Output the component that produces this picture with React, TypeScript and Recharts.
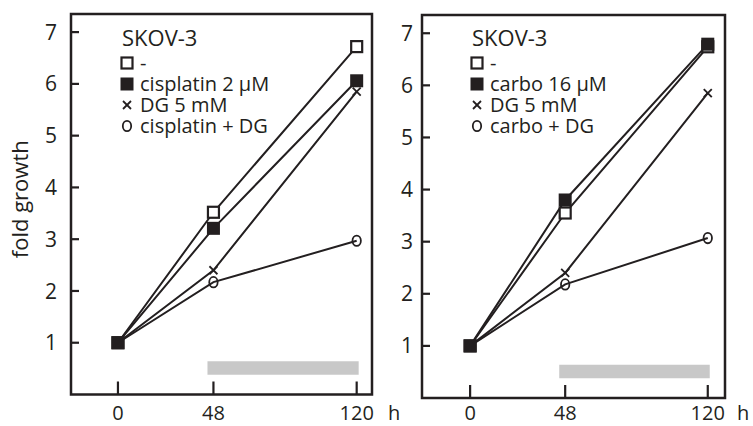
import React from 'react';
import { LineChart, Line, XAxis, YAxis, ReferenceArea, Legend } from 'recharts';

const FONT = '"Open Sans", "DejaVu Sans", sans-serif';
const INK = '#231f20';

// time points (h) and fold growth
const hours = [0, 48, 120];
const hourTicks = [0, 48, 120];
const foldTicks = [1, 2, 3, 4, 5, 6, 7];
const treatmentWindow = [45, 121];

const cisNone = [1, 3.52, 6.72];
const cisDrug = [1, 3.21, 6.06];
const cisDG = [1, 2.4, 5.85];
const cisCombo = [1, 2.17, 2.97];

const carboNone = [1, 3.55, 6.74];
const carboDrug = [1, 3.8, 6.79];
const carboDG = [1, 2.4, 5.85];
const carboCombo = [1, 2.18, 3.07];

const cellLine = 'SKOV-3';
const cisLabels = ['-', 'cisplatin 2 μM', 'DG 5 mM', 'cisplatin + DG'];
const carboLabels = ['-', 'carbo 16 μM', 'DG 5 mM', 'carbo + DG'];

const seriesKeys = ['none', 'drug', 'dg', 'combo'];
const markers = ['open', 'filled', 'cross', 'circle'];

const buildRows = (cols: number[][]) =>
  hours.map((h, i) => ({
    h,
    none: cols[0][i],
    drug: cols[1][i],
    dg: cols[2][i],
    combo: cols[3][i],
  }));

const Marker = ({ kind, cx, cy }: { kind: string; cx: number; cy: number }) => {
  if (kind === 'open')
    return (
      <rect x={cx - 5.5} y={cy - 5.5} width={11} height={11} fill="#fff" stroke={INK} strokeWidth={2.2} />
    );
  if (kind === 'filled')
    return <rect x={cx - 6.5} y={cy - 6.5} width={13} height={13} fill={INK} />;
  if (kind === 'cross')
    return (
      <g stroke={INK} strokeWidth={1.8}>
        <line x1={cx - 4} y1={cy - 4} x2={cx + 4} y2={cy + 4} />
        <line x1={cx - 4} y1={cy + 4} x2={cx + 4} y2={cy - 4} />
      </g>
    );
  return <ellipse cx={cx} cy={cy} rx={4.2} ry={5.2} fill="none" stroke={INK} strokeWidth={1.8} />;
};

const LegendBox = ({ labels }: { labels: string[] }) => (
  <div style={{ fontFamily: FONT, color: INK }}>
    <div style={{ fontSize: 22, height: 29, lineHeight: '29px', marginLeft: 2 }}>
      <span style={{ display: 'inline-block', height: 29, lineHeight: '29px' }}>{cellLine}</span>
    </div>
    {labels.map((l, i) => (
      <div
        key={l}
        style={{
          display: 'flex',
          alignItems: 'center',
          height: 21,
          fontSize: 20,
          lineHeight: '21px',
          whiteSpace: 'nowrap',
        }}
      >
        <svg width={14} height={14} style={{ marginRight: 6, flex: 'none' }}>
          <Marker kind={markers[i]} cx={7} cy={7} />
        </svg>
        <span style={{ display: 'inline-block', height: 21, lineHeight: '21px', overflow: 'visible' }}>{l}</span>
      </div>
    ))}
  </div>
);

const makeXTick = (dy: number) => (props: any) => {
  const { x, y, payload } = props;
  return (
    <g>
      <line x1={x} x2={x} y1={y} y2={y - 13} stroke={INK} strokeWidth={2.2} />
      <text x={x} y={y + dy} textAnchor="middle" fontFamily={FONT} fontSize={20} fill={INK}>
        {payload.value}
      </text>
    </g>
  );
};

const makeYTick = (gap: number) => (props: any) => {
  const { x, y, payload } = props;
  return (
    <g>
      <line x1={x} x2={x + 8} y1={y} y2={y} stroke={INK} strokeWidth={2.2} />
      <text x={x - gap} y={y} dy="0.36em" textAnchor="end" fontFamily={FONT} fontSize={21} fill={INK}>
        {payload.value}
      </text>
    </g>
  );
};

type PanelProps = {
  cols: number[][];
  labels: string[];
  width: number;
  top: number;
  yAxisWidth: number;
  xAxisHeight: number;
  xDomain: [number, number];
  yGap: number;
  hGap: number;
  labelDy: number;
  legendLeft: number;
  showYLabel: boolean;
};

const Y_MAX = 7.35;

const Panel = ({
  cols,
  labels,
  width,
  top,
  yAxisWidth,
  xAxisHeight,
  xDomain,
  yGap,
  hGap,
  labelDy,
  legendLeft,
  showYLabel,
}: PanelProps) => {
  const data = buildRows(cols);
  return (
    <LineChart width={width} height={426} data={data} margin={{ top, right: 28, bottom: 0, left: 0 }}>
      <XAxis
        dataKey="h"
        type="number"
        domain={xDomain}
        ticks={hourTicks}
        allowDataOverflow
        axisLine={false}
        tickLine={false}
        tickSize={0}
        tickMargin={0}
        height={xAxisHeight}
        tick={makeXTick(labelDy)}
        label={(p: any) => {
          const vb = p.viewBox || {};
          return (
            <text
              x={vb.x + vb.width + hGap}
              y={vb.y + labelDy}
              fontFamily={FONT}
              fontSize={20}
              fill={INK}
            >
              h
            </text>
          );
        }}
      />
      <YAxis
        type="number"
        domain={[0, Y_MAX]}
        ticks={foldTicks}
        allowDataOverflow
        axisLine={false}
        tickLine={false}
        tickSize={0}
        tickMargin={0}
        width={yAxisWidth}
        tick={makeYTick(yGap)}
        label={
          showYLabel
            ? (p: any) => {
                const vb = p.viewBox || {};
                const cy = vb.y + vb.height / 2 - 5;
                return (
                  <text
                    x={28}
                    y={cy}
                    transform={`rotate(-90, 28, ${cy})`}
                    textAnchor="middle"
                    fontFamily={FONT}
                    fontSize={22}
                    fill={INK}
                  >
                    fold growth
                  </text>
                );
              }
            : undefined
        }
      />
      <ReferenceArea
        x1={treatmentWindow[0]}
        x2={treatmentWindow[1]}
        y1={0.38}
        y2={0.64}
        fill="#c8c8c8"
        fillOpacity={1}
        stroke="none"
      />
      <ReferenceArea
        x1={xDomain[0]}
        x2={xDomain[1]}
        y1={0}
        y2={Y_MAX}
        fill="none"
        stroke={INK}
        strokeWidth={2.5}
      />
      {seriesKeys.map((k, si) => (
        <Line
          key={k}
          type="linear"
          dataKey={k}
          stroke={INK}
          strokeWidth={2}
          isAnimationActive={false}
          activeDot={false}
          dot={(p: any) => <Marker key={`${k}-${p.index}`} kind={markers[si]} cx={p.cx} cy={p.cy} />}
        />
      ))}
      <Legend
        verticalAlign="middle"
        align="center"
        layout="horizontal"
        wrapperStyle={{ left: legendLeft, top: 23, width: 240, height: 'auto' }}
        content={() => <LegendBox labels={labels} />}
      />
    </LineChart>
  );
};

export default function App() {
  return (
    <div style={{ position: 'absolute', left: 0, top: 0, width: 753, height: 426, background: '#fff' }}>
      <div style={{ position: 'absolute', left: 0, top: 0 }}>
        <Panel
          cols={[cisNone, cisDrug, cisDG, cisCombo]}
          labels={cisLabels}
          width={400}
          top={14}
          yAxisWidth={71}
          xAxisHeight={31.5}
          xDomain={[-23.6, 127.7]}
          yGap={14}
          hGap={16}
          labelDy={25.5}
          legendLeft={120}
          showYLabel
        />
      </div>
      <div style={{ position: 'absolute', left: 380, top: 0 }}>
        <Panel
          cols={[carboNone, carboDrug, carboDG, carboCombo]}
          labels={carboLabels}
          width={373}
          top={15}
          yAxisWidth={42}
          xAxisHeight={28}
          xDomain={[-24.3, 128.7]}
          yGap={9}
          hGap={12}
          labelDy={22}
          legendLeft={90}
          showYLabel={false}
        />
      </div>
    </div>
  );
}
